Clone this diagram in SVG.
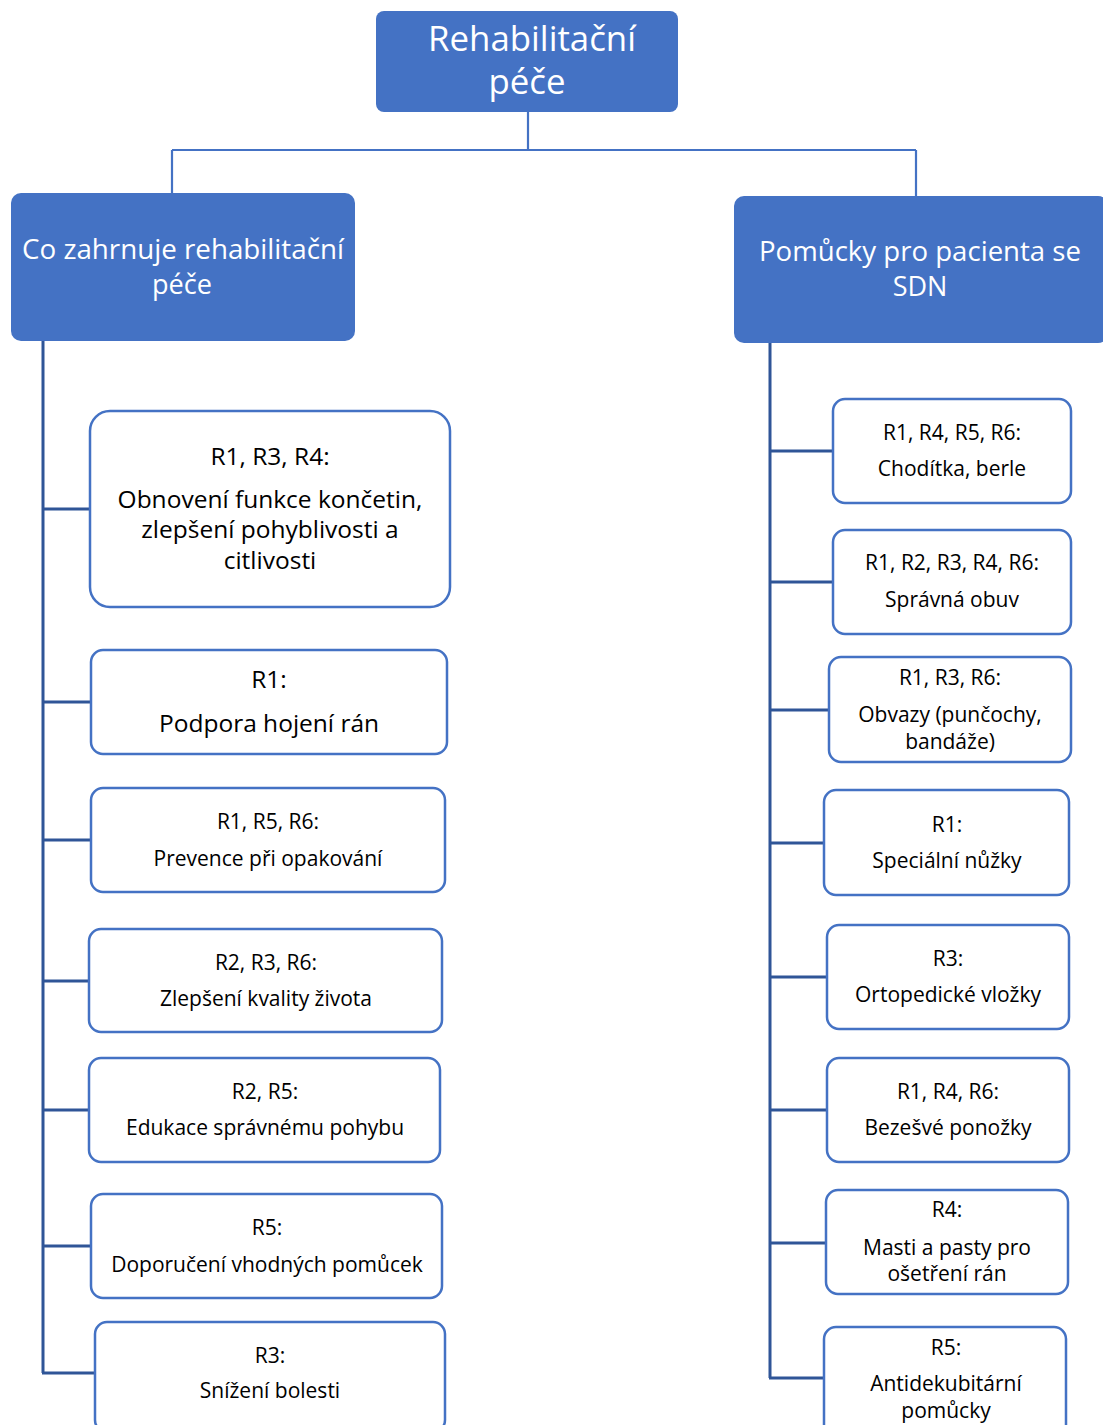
<svg xmlns="http://www.w3.org/2000/svg" width="1103" height="1425" viewBox="0 0 1103 1425">
<style>
.hdr{fill:#4472C4;}
.box{fill:#FFFFFF;stroke:#4472C4;stroke-width:2.5;}
.ht{fill:#FFFFFF;font-family:"Open Sans","Liberation Sans",sans-serif;text-anchor:middle;}
.t{fill:#000000;font-family:"Open Sans","Liberation Sans",sans-serif;font-size:21px;text-anchor:middle;}
.tl{fill:#000000;font-family:"Open Sans","Liberation Sans",sans-serif;font-size:24.5px;text-anchor:middle;}
.c1{fill:none;stroke:#4472C4;stroke-width:2.2;}
.c2{fill:none;stroke:#2F5597;stroke-width:3;}
</style>
<rect width="1103" height="1425" fill="#FFFFFF"/>
<g id="connectors">
<path class="c1" d="M528 112 V150 M172 150 H916 M172 150 V193 M916 150 V196"/>
<path class="c2" d="M43 341 V1373 M43 509 H90 M43 702 H91 M43 840 H91 M43 981 H89 M43 1110 H89 M43 1246 H91 M42 1373 H95"/>
<path class="c2" d="M770 343 V1378 M770 451 H833 M770 582 H833 M770 710 H829 M770 843 H824 M770 977 H827 M770 1110 H827 M770 1243 H826 M769 1378 H824"/>
</g>
<g id="root">
<rect class="hdr" x="376" y="11" width="302" height="101" rx="8"/>
<text class="ht" x="532" y="51" font-size="35" textLength="208" lengthAdjust="spacingAndGlyphs">Rehabilitační</text>
<text class="ht" x="527" y="94" font-size="35" textLength="77" lengthAdjust="spacingAndGlyphs">péče</text>
</g>
<g id="left-head">
<rect class="hdr" x="11" y="193" width="344" height="148" rx="10"/>
<text class="ht" x="183" y="259" font-size="28" textLength="322" lengthAdjust="spacingAndGlyphs">Co zahrnuje rehabilitační</text>
<text class="ht" x="182" y="294" font-size="28" textLength="60" lengthAdjust="spacingAndGlyphs">péče</text>
</g>
<g id="right-head">
<rect class="hdr" x="734" y="196" width="374" height="147" rx="10"/>
<text class="ht" x="920" y="261" font-size="27" textLength="322" lengthAdjust="spacingAndGlyphs">Pomůcky pro pacienta se</text>
<text class="ht" x="920" y="296" font-size="27">SDN</text>
</g>
<g id="L1">
<rect class="box" x="90" y="411" width="360" height="196" rx="20"/>
<text class="tl" x="270" y="465">R1, R3, R4:</text>
<text class="tl" x="270" y="508">Obnovení funkce končetin,</text>
<text class="tl" x="270" y="538">zlepšení pohyblivosti a</text>
<text class="tl" x="270" y="569">citlivosti</text>
</g>
<g id="L2">
<rect class="box" x="91" y="650" width="356" height="104" rx="12"/>
<text class="tl" x="269" y="688">R1:</text>
<text class="tl" x="269" y="732">Podpora hojení rán</text>
</g>
<g id="L3">
<rect class="box" x="91" y="788" width="354" height="104" rx="12"/>
<text class="t" x="268" y="829">R1, R5, R6:</text>
<text class="t" x="268" y="866">Prevence při opakování</text>
</g>
<g id="L4">
<rect class="box" x="89" y="929" width="353" height="103" rx="12"/>
<text class="t" x="266" y="970">R2, R3, R6:</text>
<text class="t" x="266" y="1006">Zlepšení kvality života</text>
</g>
<g id="L5">
<rect class="box" x="89" y="1058" width="351" height="104" rx="12"/>
<text class="t" x="265" y="1099">R2, R5:</text>
<text class="t" x="265" y="1135">Edukace správnému pohybu</text>
</g>
<g id="L6">
<rect class="box" x="91" y="1194" width="351" height="104" rx="12"/>
<text class="t" x="267" y="1235">R5:</text>
<text class="t" x="267" y="1272">Doporučení vhodných pomůcek</text>
</g>
<g id="L7">
<rect class="box" x="95" y="1322" width="350" height="110" rx="12"/>
<text class="t" x="270" y="1363">R3:</text>
<text class="t" x="270" y="1398">Snížení bolesti</text>
</g>
<g id="R1">
<rect class="box" x="833" y="399" width="238" height="104" rx="12"/>
<text class="t" x="952" y="440">R1, R4, R5, R6:</text>
<text class="t" x="952" y="476">Chodítka, berle</text>
</g>
<g id="R2">
<rect class="box" x="833" y="530" width="238" height="104" rx="12"/>
<text class="t" x="952" y="570">R1, R2, R3, R4, R6:</text>
<text class="t" x="952" y="607">Správná obuv</text>
</g>
<g id="R3">
<rect class="box" x="829" y="657" width="242" height="105" rx="12"/>
<text class="t" x="950" y="685">R1, R3, R6:</text>
<text class="t" x="950" y="722">Obvazy (punčochy,</text>
<text class="t" x="950" y="749">bandáže)</text>
</g>
<g id="R4">
<rect class="box" x="824" y="790" width="245" height="105" rx="12"/>
<text class="t" x="947" y="832">R1:</text>
<text class="t" x="947" y="868">Speciální nůžky</text>
</g>
<g id="R5">
<rect class="box" x="827" y="925" width="242" height="104" rx="12"/>
<text class="t" x="948" y="966">R3:</text>
<text class="t" x="948" y="1002">Ortopedické vložky</text>
</g>
<g id="R6">
<rect class="box" x="827" y="1058" width="242" height="104" rx="12"/>
<text class="t" x="948" y="1099">R1, R4, R6:</text>
<text class="t" x="948" y="1135">Bezešvé ponožky</text>
</g>
<g id="R7">
<rect class="box" x="826" y="1190" width="242" height="104" rx="12"/>
<text class="t" x="947" y="1217">R4:</text>
<text class="t" x="947" y="1255">Masti a pasty pro</text>
<text class="t" x="947" y="1281">ošetření rán</text>
</g>
<g id="R8">
<rect class="box" x="824" y="1327" width="242" height="110" rx="12"/>
<text class="t" x="946" y="1355">R5:</text>
<text class="t" x="946" y="1391">Antidekubitární</text>
<text class="t" x="946" y="1418">pomůcky</text>
</g>
</svg>
